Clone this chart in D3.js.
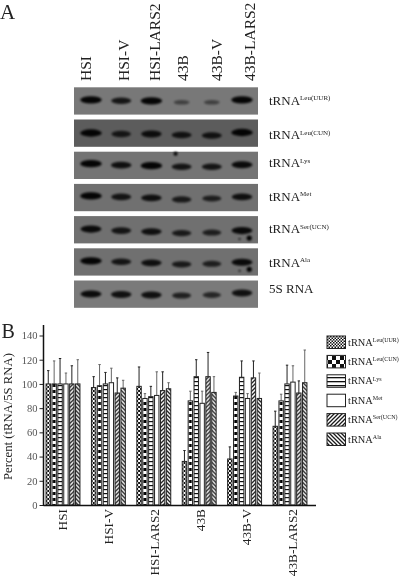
<!DOCTYPE html>
<html>
<head>
<meta charset="utf-8">
<script src="https://cdn.jsdelivr.net/npm/d3@7"></script>
<style>
  html, body { margin: 0; padding: 0; background: #fff; }
  svg { display: block; filter: blur(0.35px); }
  text { font-family: "Liberation Serif", serif; fill: #222; }
</style>
</head>
<body>
<div id="chart"></div>
<script>
const cellLines = ["HSI", "HSI-V", "HSI-LARS2", "43B", "43B-V", "43B-LARS2"];
const rnaNames = ["tRNA|Leu(UUR)", "tRNA|Leu(CUN)", "tRNA|Lys", "tRNA|Met", "tRNA|Ser(UCN)", "tRNA|Ala"];
const blotNames = ["tRNA|Leu(UUR)", "tRNA|Leu(CUN)", "tRNA|Lys", "tRNA|Met", "tRNA|Ser(UCN)", "tRNA|Ala", "5S RNA"];
const yTicks = [0, 20, 40, 60, 80, 100, 120, 140];

// bar heights, one row per cell line, one column per RNA
const percent = [
  [100, 100, 100, 100, 100, 100],
  [97, 98.5, 100, 101, 92.5, 96.5],
  [98, 88, 89.5, 90.5, 94.5, 96],
  [36, 86, 106, 84, 106, 93],
  [38, 90, 105.5, 88, 105, 88],
  [65, 86, 100, 101.5, 92.5, 101]
];
// top of each error bar
const errorTop = [
  [111, 119, 121, 109, 115, 120],
  [106, 116, 109.5, 113, 105, 103],
  [114, 92, 98, 110, 110, 101],
  [45, 94, 120, 94, 126, 106],
  [48, 93, 119, 92, 119, 109],
  [77.5, 91.5, 115.5, 115, 102.5, 128]
];

// band darkness on the blots, one row per probe, one column per lane
const bandSignal = [
  [0.95, 0.8, 0.95, 0.4, 0.4, 0.95],
  [0.95, 0.75, 0.85, 0.8, 0.8, 0.95],
  [0.95, 0.85, 0.95, 0.8, 0.8, 0.9],
  [0.95, 0.8, 0.85, 0.75, 0.7, 0.85],
  [0.9, 0.8, 0.85, 0.75, 0.7, 0.9],
  [0.95, 0.8, 0.85, 0.75, 0.7, 0.9],
  [0.9, 0.85, 0.85, 0.7, 0.65, 0.85]
];
// how far each band ran below the top of its strip
const bandRun = [
  [12.5, 13.5, 13.5, 15, 15, 12.5],
  [13.5, 14.5, 14.5, 15.5, 16, 13],
  [12, 13.5, 14, 15, 15, 13],
  [12, 13, 14, 15.5, 14.5, 13],
  [13, 14.5, 15.5, 17, 16.5, 14.5],
  [12.5, 13.5, 14.5, 16, 15.5, 14],
  [13.5, 14, 14.5, 15, 14.5, 12.5]
];
const stripGray = [120, 92, 116, 112, 112, 112, 122];
// dark spots on the film: strip, lane position, run, size
const specks = [
  ["tRNA|Lys", 2.8, 2, 2],
  ["tRNA|Ser(UCN)", 5.24, 22, 2.6],
  ["tRNA|Ser(UCN)", 4.92, 23, 1],
  ["tRNA|Ala", 5.24, 21, 2.6],
  ["tRNA|Ala", 4.92, 22.5, 1]
];

const width = 400, height = 579;
const svg = d3.select("#chart").append("svg").attr("width", width).attr("height", height);
const defs = svg.append("defs");

defs.append("filter").attr("id", "soft").attr("x", "-30%").attr("y", "-60%").attr("width", "160%").attr("height", "220%")
  .append("feGaussianBlur").attr("stdDeviation", 1.1);

// pattern fills, the legend swatches and the bars differ a little in scale
function addPattern(id, w, h, draw) {
  const p = defs.append("pattern").attr("id", id).attr("patternUnits", "userSpaceOnUse")
    .attr("width", w).attr("height", h);
  p.append("rect").attr("width", w).attr("height", h).attr("fill", "#fff");
  draw(p);
}
function checker(p, c) {
  p.append("rect").attr("width", c).attr("height", c).attr("fill", "#111");
  p.append("rect").attr("x", c).attr("y", c).attr("width", c).attr("height", c).attr("fill", "#111");
}
function hatch(p, d) {
  p.append("path").attr("d", d).attr("stroke", "#1a1a1a").attr("stroke-width", 1.3);
}
addPattern("p0", 3, 3, p => checker(p, 1.5));
addPattern("p1", 8, 8, p => checker(p, 4));
addPattern("p2", 4, 4, p => p.append("rect").attr("y", 1).attr("width", 4).attr("height", 1.3).attr("fill", "#111"));
addPattern("p3", 4, 4, () => {});
addPattern("p4", 4, 4, p => hatch(p, "M-1,1L1,-1M0,4L4,0M3,5L5,3"));
addPattern("p5", 4, 4, p => hatch(p, "M-1,3L1,5M0,0L4,4M3,-1L5,1"));
addPattern("b0", 4, 4, p => checker(p, 2));
addPattern("b1", 6, 6, p => p.append("rect").attr("x", 1.35).attr("width", 3).attr("height", 3).attr("fill", "#000"));
addPattern("b2", 4, 4, p => p.append("rect").attr("y", 1).attr("width", 4).attr("height", 1.2).attr("fill", "#111"));
addPattern("b3", 4, 4, () => {});
addPattern("b4", 4, 4, p => hatch(p, "M-1,1L1,-1M0,4L4,0M3,5L5,3"));
addPattern("b5", 4, 4, p => hatch(p, "M-1,3L1,5M0,0L4,4M3,-1L5,1"));

// text with a raised small part, "tRNA|Lys" -> tRNA + superscript
function rnaLabel(g, name, x, y, size, supSize) {
  const parts = name.split("|");
  const t = g.append("text").attr("x", x).attr("y", y).style("font-size", size + "px").text(parts[0]);
  if (parts[1]) {
    t.append("tspan").attr("dy", -size * 0.36).style("font-size", supSize + "px").text(parts[1]);
  }
}

// ---- panel A ----
svg.append("text").attr("x", 0).attr("y", 18.7).style("font-size", "21px").text("A");

const laneX = d3.scalePoint().domain(cellLines).range([91, 242]);
const lanePos = d3.scaleLinear().domain([0, 5]).range([91, 242]);
const stripY = d3.scaleBand().domain(blotNames).range([87.3, 87.3 + 31.5 * 7]).paddingInner(4.8 / 31.5).paddingOuter(0).align(0);
const opacity = d3.scaleLinear().domain([0, 1]).range([0.12, 1]);
const blotLeft = 74, blotRight = 258;
const topBaseline = [90.7, 129, 160, 188, 221.7, 255];
const blotLabelY = [105, 139.3, 167.3, 200.7, 233.3, 266.7, 293];

svg.append("g").selectAll("text").data(cellLines).join("text")
  .attr("transform", (d, i) => `translate(${topBaseline[i]},81) rotate(-90)`)
  .style("font-size", "15.5px")
  .text(d => d);

blotNames.forEach((name, r) => {
  const g = svg.append("g");
  const top = stripY(name);
  const v = stripGray[r];
  g.append("rect").attr("x", blotLeft).attr("y", top).attr("width", blotRight - blotLeft)
    .attr("height", stripY.bandwidth()).attr("fill", `rgb(${v},${v},${v})`);
  g.append("g").attr("filter", "url(#soft)").selectAll("ellipse").data(cellLines).join("ellipse")
    .attr("cx", d => laneX(d))
    .attr("cy", (d, i) => top + bandRun[r][i])
    .attr("rx", (d, i) => 6 + 5 * bandSignal[r][i])
    .attr("ry", (d, i) => 1.2 + 2.6 * bandSignal[r][i])
    .attr("fill", "#000")
    .attr("fill-opacity", (d, i) => opacity(bandSignal[r][i]));
  g.append("g").attr("filter", "url(#soft)").selectAll("circle")
    .data(specks.filter(s => s[0] === name)).join("circle")
    .attr("cx", s => lanePos(s[1]))
    .attr("cy", s => top + s[2])
    .attr("r", s => s[3])
    .attr("fill", "#000");
  rnaLabel(svg, name, 269, blotLabelY[r], 13, 7);
});

// ---- panel B ----
svg.append("text").attr("x", 1.5).attr("y", 338).style("font-size", "20px").text("B");

const margin = { left: 43.5, right: 316, top: 325, bottom: 505 };
const y = d3.scaleLinear().domain([0, 140]).range([margin.bottom, 335.5]);
const x0 = d3.scaleBand().domain(cellLines).range([45.3, 45.3 + 45.4 * 6]);
const x1 = d3.scaleBand().domain(rnaNames).range([0, 5.9 * 6]);
const xLabel = d3.scalePoint().domain(cellLines).range([66.7, 297]);

const groups = svg.append("g").selectAll("g").data(cellLines).join("g")
  .attr("transform", d => `translate(${x0(d)},0)`);

// error bars first so the bars sit over them
groups.each(function (line, i) {
  const g = d3.select(this);
  g.selectAll("path.err").data(rnaNames).join("path").attr("class", "err")
    .attr("d", (d, j) => {
      const cx = x1(d) + x1.bandwidth() / 2;
      return `M${cx},${y(percent[i][j])}V${y(errorTop[i][j])}M${cx - 1.2},${y(errorTop[i][j])}H${cx + 1.2}`;
    })
    .attr("fill", "none")
    .attr("stroke", (d, j) => j % 2 ? "#666" : "#222")
    .attr("stroke-width", 1);
  g.selectAll("rect").data(rnaNames).join("rect")
    .attr("x", d => x1(d) + 0.75)
    .attr("y", (d, j) => y(percent[i][j]))
    .attr("width", x1.bandwidth() - 1.5)
    .attr("height", (d, j) => y(0) - y(percent[i][j]))
    .attr("fill", (d, j) => `url(#b${j})`)
    .attr("stroke", "#222")
    .attr("stroke-width", 1);
});

const yAxis = d3.axisLeft(y).tickValues(yTicks).tickSize(4).tickPadding(2);
const yG = svg.append("g").attr("transform", `translate(${margin.left},0)`).call(yAxis);
yG.select(".domain").remove();
yG.selectAll("line").attr("stroke", "#222");
yG.selectAll("text").style("font-size", "10.5px").style("font-family", "'Liberation Serif', serif").style("fill", "#555");

svg.append("line").attr("x1", margin.left).attr("x2", margin.left)
  .attr("y1", margin.top).attr("y2", margin.bottom + 1).attr("stroke", "#111").attr("stroke-width", 1.5);
svg.append("line").attr("x1", margin.left).attr("x2", margin.right)
  .attr("y1", margin.bottom + 0.5).attr("y2", margin.bottom + 0.5).attr("stroke", "#111").attr("stroke-width", 1.5);

svg.append("text").attr("transform", "translate(11.7,480) rotate(-90)")
  .style("font-size", "12.7px").text("Percent (tRNA/5S RNA)");

svg.append("g").selectAll("text").data(cellLines).join("text")
  .attr("transform", d => `translate(${xLabel(d)},509) rotate(-90)`)
  .attr("text-anchor", "end")
  .style("font-size", "13.3px")
  .text(d => d);

// legend
const legendY = d3.scaleBand().domain(rnaNames).range([336, 336 + 19.4 * 6]);
rnaNames.forEach((name, j) => {
  svg.append("rect").attr("x", 327).attr("y", legendY(name)).attr("width", 18.5).attr("height", 12.5)
    .attr("fill", `url(#p${j})`).attr("stroke", "#222").attr("stroke-width", 1);
  rnaLabel(svg, name, 348, legendY(name) + 9.5, 10.4, 6);
});
</script>
</body>
</html>
